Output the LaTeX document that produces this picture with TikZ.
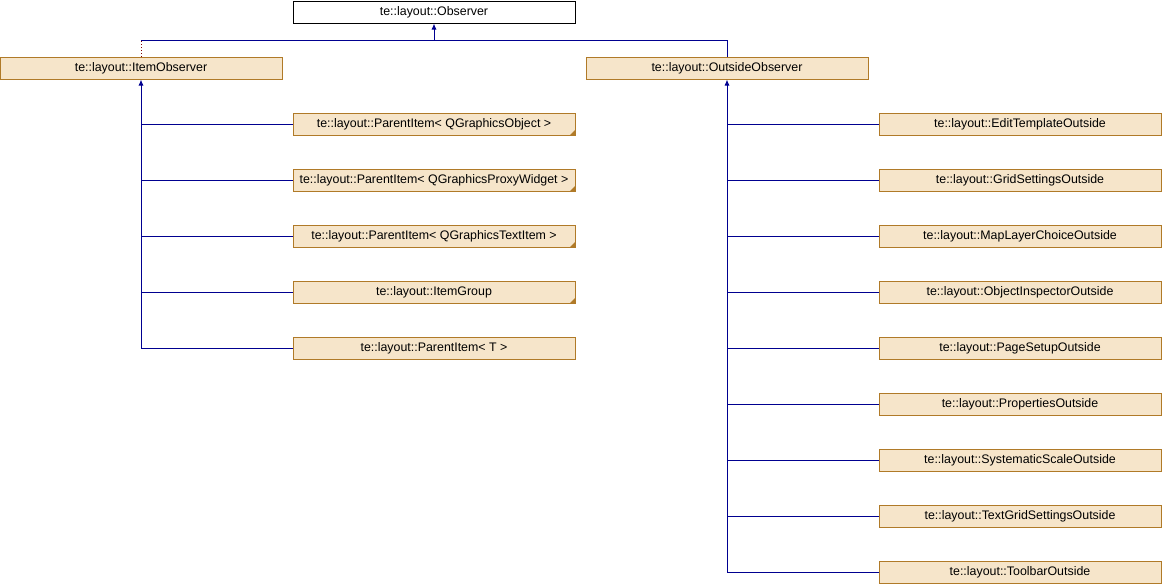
\documentclass[tikz,border=0pt]{standalone}
\usepackage{fontspec}
\setmainfont{Liberation Sans}
\usetikzlibrary{arrows.meta}
\definecolor{boxfill}{HTML}{F6E5CA}
\definecolor{boxline}{HTML}{B07A28}
\definecolor{edgecol}{HTML}{000090}
\definecolor{dotcol}{HTML}{800000}
\begin{document}
\begin{tikzpicture}[x=1pt,y=-1pt,
  cls/.style={draw=boxline,fill=boxfill,line width=1pt,minimum width=282pt,minimum height=22pt,inner sep=0pt,font=\fontsize{12.4}{14}\selectfont,text=black},
  plain/.style={draw=black,fill=white,line width=1pt,minimum width=282pt,minimum height=22pt,inner sep=0pt,font=\fontsize{12.4}{14}\selectfont,text=black},
  edge/.style={draw=edgecol,line width=1pt},
  arr/.style={edge,-{Latex[length=6pt,width=5pt]}},
  tri/.style={fill=boxline}
]
\useasboundingbox (0,0) rectangle (1162,584);
\node[plain] (obs) at (434,12) {te::layout::Observer};
\node[cls] (io) at (141,68) {te::layout::ItemObserver};
\node[cls] (oo) at (727,68) {te::layout::OutsideObserver};
% left children
\node[cls] (l1) at (434,124) {te::layout::ParentItem< QGraphicsObject >};
\node[cls] (l2) at (434,180) {te::layout::ParentItem< QGraphicsProxyWidget >};
\node[cls] (l3) at (434,236) {te::layout::ParentItem< QGraphicsTextItem >};
\node[cls] (l4) at (434,292) {te::layout::ItemGroup};
\node[cls] (l5) at (434,348) {te::layout::ParentItem< T >};
% right children
\node[cls] (r1) at (1020,124) {te::layout::EditTemplateOutside};
\node[cls] (r2) at (1020,180) {te::layout::GridSettingsOutside};
\node[cls] (r3) at (1020,236) {te::layout::MapLayerChoiceOutside};
\node[cls] (r4) at (1020,292) {te::layout::ObjectInspectorOutside};
\node[cls] (r5) at (1020,348) {te::layout::PageSetupOutside};
\node[cls] (r6) at (1020,404) {te::layout::PropertiesOutside};
\node[cls] (r7) at (1020,460) {te::layout::SystematicScaleOutside};
\node[cls] (r8) at (1020,516) {te::layout::TextGridSettingsOutside};
\node[cls] (r9) at (1020,572) {te::layout::ToolbarOutside};
% corner triangles
\foreach \n in {l1,l2,l3,l4}{
  \fill[tri] (\n.south east) -- ++(-6,0) -- ++(6,-6) -- cycle;
}
% top connections
\coordinate (j1) at (141,40);
\coordinate (j2) at (434,40);
\draw[dotcol,line width=1pt,dotted] (io.north) -- (j1);
\draw[edge] (j1) -- (j2);
\draw[edge] (oo.north) |- (j2);
\draw[arr] (j2) -- (obs.south);
% left tree
\draw[arr] (l5.west) -| (io.south);
\foreach \n in {l1,l2,l3,l4}{
  \draw[edge] (\n.west) -- (\n.west -| io.south);
}
% right tree
\draw[arr] (r9.west) -| (oo.south);
\foreach \n in {r1,r2,r3,r4,r5,r6,r7,r8}{
  \draw[edge] (\n.west) -- (\n.west -| oo.south);
}
\end{tikzpicture}
\end{document}
